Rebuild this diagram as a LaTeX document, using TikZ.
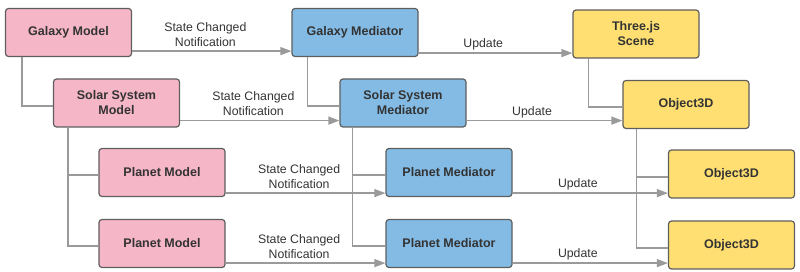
\documentclass[tikz,border=0pt]{standalone}
\usepackage{fontspec}
\setmainfont{Liberation Sans}
\usetikzlibrary{arrows.meta, positioning, calc}

\definecolor{modelpink}{HTML}{F5B6C8}
\definecolor{medblue}{HTML}{83BBE5}
\definecolor{sceneyellow}{HTML}{FFDF71}
\definecolor{boxline}{HTML}{5E5E5E}
\definecolor{wire}{HTML}{9A9A9A}
\definecolor{inktext}{HTML}{333333}

\begin{document}
\begin{tikzpicture}[
    x=1pt, y=-1pt,
    box/.style={rectangle, rounded corners=3pt, draw=boxline, line width=1.2pt, minimum width=126pt, minimum height=48pt, align=center, text=inktext, font=\fontsize{12.5}{15}\selectfont\bfseries},
    model/.style={box, fill=modelpink},
    mediator/.style={box, fill=medblue},
    scene/.style={box, fill=sceneyellow},
    link/.style={draw=wire, line width=1.3pt},
    notify/.style={link, -{Triangle[length=11pt, width=8pt]}},
    lbl/.style={text=inktext, align=center, font=\fontsize{12.3}{15}\selectfont, inner sep=1pt}
]
\useasboundingbox (0,0) rectangle (800,272);

% Models
\node[model] (galaxy_model) at (68.5, 32.5) {Galaxy Model};
\node[model] (solar_model) at (116.5, 103) {Solar System\\Model};
\node[model] (planet_model_a) at (162, 172.5) {Planet Model};
\node[model] (planet_model_b) at (162, 243.5) {Planet Model};

% Mediators
\node[mediator] (galaxy_med) at (355, 32.5) {Galaxy Mediator};
\node[mediator] (solar_med) at (403, 103) {Solar System\\Mediator};
\node[mediator] (planet_med_a) at (449, 172.5) {Planet Mediator};
\node[mediator] (planet_med_b) at (449, 243.5) {Planet Mediator};

% Three.js side
\node[scene] (three_scene) at (636, 34) {Three.js\\Scene};
\node[scene] (obj_solar) at (686, 104.5) {Object3D};
\node[scene] (obj_planet_a) at (731.5, 174) {Object3D};
\node[scene] (obj_planet_b) at (731.5, 245) {Object3D};

% Hierarchy links
\draw[link] ([xshift=17pt]galaxy_model.south west) |- ([yshift=-3pt]solar_model.west);
\draw[link] ([xshift=15pt]solar_model.south west) |- ([yshift=-2.5pt]planet_model_a.west);
\draw[link] ([xshift=15pt]solar_model.south west) |- ([yshift=-2.5pt]planet_model_b.west);
\draw[link] ([xshift=16pt]galaxy_med.south west) |- ([yshift=-3pt]solar_med.west);
\draw[link] ([xshift=13pt]solar_med.south west) |- ([yshift=-2.5pt]planet_med_a.west);
\draw[link] ([xshift=13pt]solar_med.south west) |- ([yshift=-2.5pt]planet_med_b.west);
\draw[link] ([xshift=16pt]three_scene.south west) |- ([yshift=-2.5pt]obj_solar.west);
\draw[link] ([xshift=14pt]obj_solar.south west) |- ([yshift=-3pt]obj_planet_a.west);
\draw[link] ([xshift=14pt]obj_solar.south west) |- ([yshift=-3pt]obj_planet_b.west);

% Model -> Mediator notifications
\draw[notify] ([yshift=6pt]galaxy_model.south east) -- ([yshift=6pt]galaxy_model.south east -| galaxy_med.west)
    node[lbl, pos=0.46, above=3pt] {State Changed\\Notification};
\draw[notify] ([yshift=7pt]solar_model.south east) -- ([yshift=7pt]solar_model.south east -| solar_med.west)
    node[lbl, pos=0.46, above=3pt] {State Changed\\Notification};
\draw[notify] ([yshift=4pt]planet_model_a.south east) -- ([yshift=4pt]planet_model_a.south east -| planet_med_a.west)
    node[lbl, pos=0.46, above=3pt] {State Changed\\Notification};
\draw[notify] ([yshift=5pt]planet_model_b.south east) -- ([yshift=5pt]planet_model_b.south east -| planet_med_b.west)
    node[lbl, pos=0.46, above=3pt] {State Changed\\Notification};

% Mediator -> Three.js updates
\draw[notify] ([yshift=4pt]galaxy_med.south east) -- ([yshift=4pt]galaxy_med.south east -| three_scene.west)
    node[lbl, pos=0.42, above=1pt] {Update};
\draw[notify] ([yshift=7pt]solar_med.south east) -- ([yshift=7pt]solar_med.south east -| obj_solar.west)
    node[lbl, pos=0.42, above=1pt] {Update};
\draw[notify] ([yshift=4pt]planet_med_a.south east) -- ([yshift=4pt]planet_med_a.south east -| obj_planet_a.west)
    node[lbl, pos=0.42, above=1pt] {Update};
\draw[notify] ([yshift=5pt]planet_med_b.south east) -- ([yshift=5pt]planet_med_b.south east -| obj_planet_b.west)
    node[lbl, pos=0.42, above=1pt] {Update};

\end{tikzpicture}
\end{document}
